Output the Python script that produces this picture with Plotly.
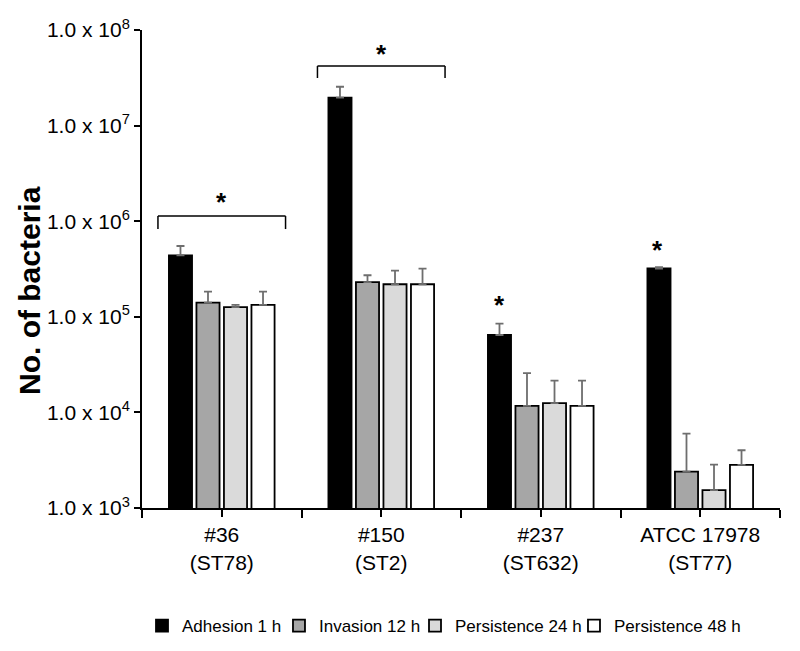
import plotly.graph_objects as go

groups = ["#36<br>(ST78)", "#150<br>(ST2)", "#237<br>(ST632)", "ATCC 17978<br>(ST77)"]
series_names = ["Adhesion 1 h", "Invasion 12 h", "Persistence 24 h", "Persistence 48 h"]
adhesion = [4.4e5, 1.96e7, 6.45e4, 3.2e5]
adhesion_err = [1.1e5, 0.59e7, 2.05e4, 0.1e5]
invasion = [1.41e5, 2.3e5, 1.17e4, 2.4e3]
invasion_err = [0.42e5, 0.42e5, 1.4e4, 3.6e3]
persist24 = [1.26e5, 2.19e5, 1.25e4, 1.54e3]
persist24_err = [0.07e5, 0.85e5, 0.9e4, 1.3e3]
persist48 = [1.33e5, 2.19e5, 1.17e4, 2.82e3]
persist48_err = [0.5e5, 1.0e5, 0.98e4, 1.2e3]
colors = ["#000000", "#a6a6a6", "#dadada", "#ffffff"]
tick_vals = [1e3, 1e4, 1e5, 1e6, 1e7, 1e8]
tick_text = ["1.0 x 10<sup>%d</sup>" % e for e in range(3, 9)]
y_log_range = [3, 8]

FONT = "Liberation Sans, Arial, sans-serif"

xpos = list(range(len(groups)))


def ypaper(logv):
    return (logv - y_log_range[0]) / (y_log_range[1] - y_log_range[0])


legend_ids = ["legend", "legend2", "legend3", "legend4"]
legend_x = [0.0, 0.2147, 0.4279, 0.6771]

fig = go.Figure()
for name, vals, errs, col, lid in zip(series_names,
                                      [adhesion, invasion, persist24, persist48],
                                      [adhesion_err, invasion_err, persist24_err, persist48_err],
                                      colors, legend_ids):
    fig.add_trace(go.Bar(
        x=xpos, y=vals, name=name, legend=lid,
        marker=dict(color=col, line=dict(color="black", width=1.8)),
        error_y=dict(type="data", array=errs, arrayminus=[0] * len(errs),
                     symmetric=False, color="#6e6e6e", thickness=1.8, width=4),
    ))

# significance brackets (x in group position, y as log10 value)
brackets = [(-0.4, 0.4, 5.918, 6.054), (0.6, 1.4, 7.498, 7.623)]
for x0, x1, yb, yt in brackets:
    for seg in [(x0, yb, x0, yt), (x0, yt, x1, yt), (x1, yt, x1, yb)]:
        fig.add_shape(type="line", xref="x", yref="paper",
                      x0=seg[0], y0=ypaper(seg[1]), x1=seg[2], y1=ypaper(seg[3]),
                      line=dict(color="black", width=1.5))

stars = [(0, 6.2), (1, 7.75), (1.74, 5.12), (2.73, 5.70)]
for sx, sy in stars:
    fig.add_annotation(x=sx, y=sy, xref="x", yref="y", text="<b>*</b>",
                       showarrow=False, font=dict(size=26, color="black", family=FONT))

fig.add_annotation(x=-0.1755, y=0.454, xref="paper", yref="paper",
                   xanchor="center", yanchor="middle",
                   text="<b>No. of bacteria</b>", textangle=-90, showarrow=False,
                   font=dict(size=30, color="black", family=FONT))

legend_common = dict(orientation="h", xanchor="left", y=-0.247, yanchor="middle",
                     font=dict(size=17, family=FONT, color="black"), itemwidth=30,
                     bgcolor="rgba(0,0,0,0)", borderwidth=0)

# page body has an 8px margin: compensate so the plot lands where the reference has it
fig.update_layout(
    width=792, height=643,
    margin=dict(l=134, r=20, t=22, b=143, autoexpand=False),
    paper_bgcolor="white", plot_bgcolor="white",
    barmode="group", bargap=0.31, bargroupgap=0.16,
    font=dict(family=FONT, color="black"),
    showlegend=True,
    legend=dict(x=legend_x[0], **legend_common),
    legend2=dict(x=legend_x[1], **legend_common),
    legend3=dict(x=legend_x[2], **legend_common),
    legend4=dict(x=legend_x[3], **legend_common),
)
fig.update_xaxes(
    type="linear", range=[-0.5, 3.5], showline=True, linecolor="black", linewidth=2,
    tickmode="array", tickvals=xpos, ticktext=groups,
    ticks="outside", ticklen=7, tickwidth=2, tickcolor="black",
    minor=dict(tickmode="array", tickvals=[p - 0.5 for p in xpos] + [xpos[-1] + 0.5],
               ticks="outside", ticklen=8, tickwidth=2, tickcolor="black", showgrid=False),
    ticklabelstandoff=0,
    tickfont=dict(size=21, family=FONT, color="black"), showgrid=False, zeroline=False,
)
fig.update_yaxes(
    type="log", range=y_log_range, showline=True, linecolor="black", linewidth=2,
    ticks="outside", ticklen=6, tickwidth=2, tickcolor="black",
    tickvals=tick_vals, ticktext=tick_text,
    tickfont=dict(size=21, family=FONT, color="black"), showgrid=False, zeroline=False,
)

fig.write_html("out.html")
